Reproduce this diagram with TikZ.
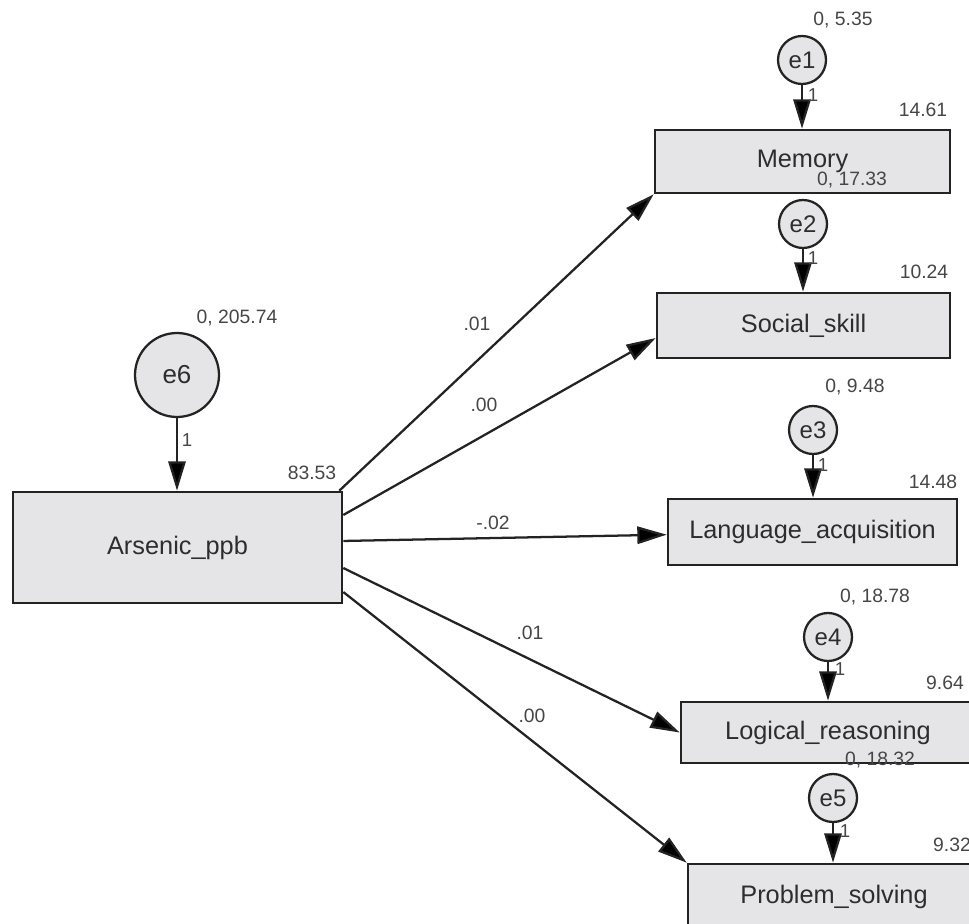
\documentclass[tikz,border=0pt]{standalone}
\usepackage{fontspec}
\setmainfont{Liberation Sans}
\usetikzlibrary{arrows.meta}
\definecolor{boxfill}{RGB}{229,229,231}
\definecolor{linec}{RGB}{35,35,35}
\definecolor{txt}{RGB}{45,45,45}
\definecolor{numc}{RGB}{70,70,70}
\begin{document}
\begin{tikzpicture}[x=0.75pt,y=-0.75pt,
  obs/.style={draw=linec,line width=2pt,fill=boxfill,rectangle,inner sep=0pt,text=txt,font=\fontsize{19}{22}\selectfont},
  err/.style={draw=linec,line width=1.7pt,fill=boxfill,circle,inner sep=0pt,minimum size=36pt,text=txt,font=\fontsize{18}{20}\selectfont},
  num/.style={text=numc,font=\fontsize{14.5}{16}\selectfont,inner sep=0pt},
  one/.style={text=numc,font=\fontsize{14}{16}\selectfont,inner sep=0pt},
  path/.style={draw=linec,line width=1.7pt,-{Triangle[length=22pt,width=13pt,fill=black]}}
]
\useasboundingbox (0,0) rectangle (969,923);

% observed boxes
\node[obs,minimum width=246.75pt,minimum height=83.25pt] (ars) at (177.5,547.5) {Arsenic\_ppb};
\node[obs,minimum width=221.25pt,minimum height=47.25pt] (mem) at (802.5,161.5) {Memory};
\node[obs,minimum width=219.75pt,minimum height=48.75pt] (soc) at (803.5,325.5) {Social\_skill};
\node[obs,minimum width=216.75pt,minimum height=49.5pt] (lan) at (812.5,532) {Language\_acquisition};
\node[obs,minimum width=220.5pt,minimum height=45.75pt] (log) at (828,732.5) {Logical\_reasoning};
\node[obs,minimum width=219pt,minimum height=49.5pt] (pro) at (834,897) {Problem\_solving};

% error circles
\node[err,minimum size=63pt,font=\fontsize{19.5}{22}\selectfont] (e6) at (177,375) {e6};
\node[err] (e1) at (802,60) {e1};
\node[err] (e2) at (803,224) {e2};
\node[err] (e3) at (813,430) {e3};
\node[err] (e4) at (828,637) {e4};
\node[err] (e5) at (833,798) {e5};

% error arrows
\draw[path] (e6) -- (e6 |- ars.north);
\draw[path] (e1) -- (e1 |- mem.north);
\draw[path] (e2) -- (e2 |- soc.north);
\draw[path] (e3) -- (e3 |- lan.north);
\draw[path] (e4) -- (e4 |- log.north);
\draw[path] (e5) -- (e5 |- pro.north);

% regression paths
\draw[path] ([xshift=-3pt]ars.north east) -- (mem.south west);
\draw[path] ([yshift=24.4pt]ars.east) -- ([yshift=-9.4pt]soc.west);
\draw[path] ([yshift=4.9pt]ars.east) -- ([yshift=-2pt]lan.west);
\draw[path] ([yshift=-15.4pt]ars.east) -- (log.west);
\draw[path] ([yshift=-33.4pt]ars.east) -- (pro.north west);

% path labels
\node[num] (l1) at (477,324) {.01};
\node[num] (l2) at (484,405) {.00};
\node[num] (l3) at (493,523) {-.02};
\node[num] (l4) at (530,633) {.01};
\node[num] (l5) at (532,716) {.00};

% fixed loadings
\node[one] (o6) at (187,440) {1};
\node[one] (o1) at (813,95) {1};
\node[one] (o2) at (813,258) {1};
\node[one] (o3) at (823,465) {1};
\node[one] (o4) at (840,669) {1};
\node[one] (o5) at (845,831) {1};

% variances / intercepts
\node[num] (v6) at (237,318) {0, 205.74};
\node[num] (i0) at (312,473) {83.53};
\node[num] (v1) at (843,20) {0, 5.35};
\node[num] (i1) at (923,110) {14.61};
\node[num] (v2) at (852,180) {0, 17.33};
\node[num] (i2) at (924,272) {10.24};
\node[num] (v3) at (855,387) {0, 9.48};
\node[num] (i3) at (933,482) {14.48};
\node[num] (v4) at (875,597) {0, 18.78};
\node[num] (i4) at (945,683) {9.64};
\node[num] (v5) at (880,760) {0, 18.32};
\node[num] (i5) at (952,845) {9.32};
\end{tikzpicture}
\end{document}
